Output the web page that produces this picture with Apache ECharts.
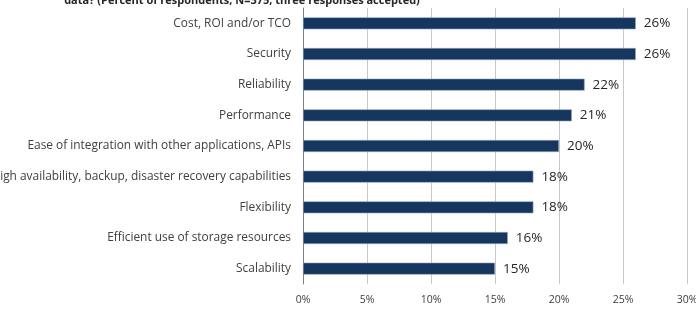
<!DOCTYPE html>
<html>
<head>
  <meta charset="utf-8" />
  <script src="https://cdn.jsdelivr.net/npm/echarts@6/dist/echarts.min.js"></script>
  <style>
    body { margin: 0; background: #fff; }
  </style>
</head>
<body>
  <div id="main" style="width: 696px;height:320px;"></div>
  <script type="text/javascript">
    // categories, bottom to top (category axis goes upward)
    var categories = [
      'Scalability',
      'Efficient use of storage resources',
      'Flexibility',
      'High availability, backup, disaster recovery capabilities',
      'Ease of integration with other applications, APIs',
      'Performance',
      'Reliability',
      'Security',
      'Cost, ROI and/or TCO'
    ];
    var values = [15, 16, 18, 18, 20, 21, 22, 26, 26];
    var xTicks = [0, 5, 10, 15, 20, 25, 30];

    var myChart = echarts.init(document.getElementById('main'));

    var option = {
      animation: false,
      title: {
        text: 'data? (Percent of respondents, N=375, three responses accepted)',
        left: 237,
        textAlign: 'center',
        top: -10,
        textStyle: {
          fontFamily: 'Open Sans',
          fontSize: 11,
          fontWeight: 'bold',
          color: '#262626'
        }
      },
      grid: {
        left: 303,
        right: 9,
        top: 8,
        bottom: 36,
        containLabel: false,
        outerBoundsMode: 'none'
      },
      xAxis: {
        type: 'value',
        min: xTicks[0],
        max: xTicks[xTicks.length - 1],
        interval: 5,
        axisLine: { show: false },
        axisTick: { show: false },
        splitLine: { lineStyle: { color: '#c8c8c8', width: 1 } },
        axisLabel: {
          margin: 11,
          fontFamily: 'Open Sans',
          fontSize: 10.5,
          color: '#404040',
          formatter: function (v) { return v + '%'; }
        }
      },
      yAxis: {
        type: 'category',
        data: categories,
        axisLine: { lineStyle: { color: '#7f7f7f' } },
        axisTick: { length: 4, lineStyle: { color: '#7f7f7f' } },
        axisLabel: {
          margin: 12,
          fontFamily: 'Open Sans',
          fontSize: 11.9,
          color: '#404040'
        }
      },
      series: [{
        type: 'bar',
        data: values,
        barWidth: 12,
        itemStyle: {
          color: '#17365d',
          borderColor: '#8ea9c8',
          borderWidth: 0.6
        },
        label: {
          show: true,
          position: 'right',
          distance: 8,
          fontFamily: 'Open Sans',
          fontSize: 13.5,
          color: '#262626',
          formatter: '{c}%'
        }
      }]
    };
    myChart.setOption(option);
  </script>
</body>
</html>
